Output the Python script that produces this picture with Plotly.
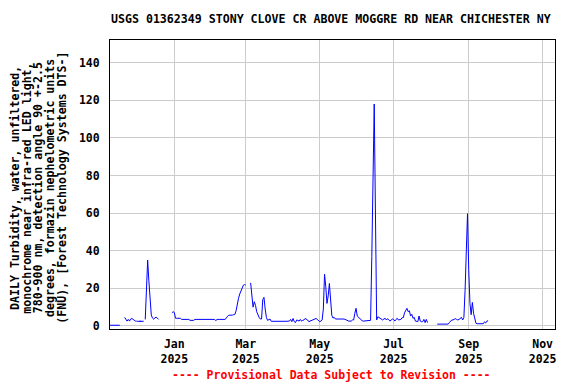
import pandas as pd
import plotly.graph_objects as go

# ---- data (daily turbidity, FNU) ----
seg_a_start = "2024-11-09"
seg_a = [0.4, 0.4, 0.4, 0.4, 0.4, 0.4, 0.4, 0.4, 0.4]

seg_b_start = "2024-11-21"
seg_b = [4.6, 3.5, 2.6, 3.5, 2.6, 3.7, 4.0, 3.5, 3.0, 2.6, 2.6]

iso_dates = ["2024-12-03", "2024-12-05"]
iso_vals = [2.5, 2.5]

seg_c_start = "2024-12-08"
seg_c = [3.5, 19, 35, 24, 12, 5.8, 4.2, 3.6, 4.4, 4.6, 4.2, 3.5]

seg_d_start = "2024-12-30"
seg_d = [7.0, 7.6, 7.2, 4.1, 4.1, 4.1, 4.1, 4.1, 3.5, 3.5,
         3.5, 3.5, 3.5, 3.5, 3.5, 3.0, 3.0, 3.0, 3.0, 3.5,
         3.5, 3.5, 3.6, 3.5, 3.5, 3.5, 3.6, 3.5, 3.5, 3.5,
         3.6, 3.5, 3.5, 3.5, 3.5, 3.5, 3.0, 3.5, 3.5, 3.5,
         3.6, 3.5, 3.5, 3.5, 3.5, 4.5, 5.2, 5.7, 5.7, 5.5,
         5.8, 6.0, 6.2, 8.1, 12, 14.7, 17, 19, 20.5, 21.7,
         22.0, 21.7]

seg_e_start = "2025-03-05"
seg_e = [22.9, 14, 10, 12.9, 11, 7.6, 5.5, 4.6, 3.7, 3.7,
         14, 15.2, 9, 4.6, 3.0, 3.5, 3.7, 2.5, 2.5, 2.3,
         2.1, 2.1, 2.1, 2.1, 2.1, 2.1, 2.1, 2.1, 2.1, 2.1,
         2.5, 2.6, 2.6, 3.5, 2.3, 4.0, 2.3, 1.8, 3.2, 3.0,
         2.6, 3.5, 2.6, 3.0, 3.2, 4.0, 3.6, 3.2, 2.3, 2.6,
         2.8, 3.2, 3.5, 4.0, 4.0, 3.5, 2.6, 2.3, 2.6, 3.2,
         9, 27.5, 21, 12, 16, 22.6, 13.8, 5.6, 4.2, 4.6,
         3.7, 3.7, 3.9, 4.0, 3.7, 3.7, 3.7, 3.7, 3.5, 3.2,
         2.6, 2.6, 2.6, 2.6, 3.2, 3.2, 6.7, 9.4, 5.3, 4.6,
         3.7, 3.2, 2.8, 2.6, 2.6, 2.6, 2.6, 2.6, 2.6, 3.0,
         37, 83, 118, 60, 3.2, 4.9, 4.4, 3.7, 3.5, 3.2,
         3.7, 4.1, 3.2, 3.9, 3.2, 2.6, 3.2, 3.7, 3.5, 2.6,
         3.5, 4.1, 3.2, 3.2, 3.5, 4.4, 4.4, 7.0, 8.0, 9.4,
         7.6, 8.1, 5.3, 6.2, 4.1, 4.6, 2.6, 2.3, 2.3, 5.3,
         2.6, 2.3, 2.3, 3.5, 1.8, 3.5, 1.8]

seg_f_start = "2025-08-06"
seg_f = [1.0, 1.0, 1.0, 1.0, 1.0, 1.0, 1.0, 1.0, 1.0, 1.0,
         1.8, 2.5, 3.2, 3.2, 3.5, 3.9, 3.5, 3.2, 3.5, 3.9,
         4.6, 3.2, 4.6, 19, 47, 59.7, 30, 12, 6, 12.5,
         6.7, 4.1, 1.4, 1.2, 1.2, 1.2, 1.2, 1.6, 1.2, 2.2,
         1.6, 2.6, 2.8]

tick_dates = ["2025-01-01", "2025-03-01", "2025-05-01", "2025-07-01", "2025-09-01", "2025-11-01"]
tick_text = ["Jan<br>2025", "Mar<br>2025", "May<br>2025", "Jul<br>2025", "Sep<br>2025", "Nov<br>2025"]
y_ticks = [0, 20, 40, 60, 80, 100, 120, 140]

title_text = "USGS 01362349 STONY CLOVE CR ABOVE MOGGRE RD NEAR CHICHESTER NY"
ytitle_lines = [
    "DAILY Turbidity, water, unfiltered,",
    "monochrome near infra-red LED light,",
    "780-900 nm, detection angle 90 +-2.5",
    "degrees, formazin nephelometric units",
    "(FNU), [Forest Technology Systems DTS-]",
]
footer_text = "---- Provisional Data Subject to Revision ----"

# ---- build series with gaps ----
xs, ys = [], []
for start, vals in [(seg_a_start, seg_a), (seg_b_start, seg_b), (seg_c_start, seg_c),
                    (seg_d_start, seg_d), (seg_e_start, seg_e), (seg_f_start, seg_f)]:
    dates = pd.date_range(start, periods=len(vals), freq="D")
    xs.extend(list(dates))
    ys.extend(vals)
    xs.append(dates[-1] + pd.Timedelta(hours=12))
    ys.append(None)

FONT = "DejaVu Sans Mono"
fig = go.Figure()
fig.add_trace(go.Scatter(x=xs, y=ys, mode="lines", connectgaps=False,
                         line=dict(color="#0000FF", width=1), showlegend=False))
fig.add_trace(go.Scatter(x=pd.to_datetime(iso_dates), y=iso_vals, mode="markers",
                         marker=dict(symbol="line-ew", size=3, line=dict(color="#0000FF", width=1)),
                         showlegend=False))

# page offset of the figure (browser body margin)
OFF = 8
W, H = 576 - OFF, 384 - OFF
# desired plot area in page pixels
PL, PR, PT, PB = 110, 555, 40, 329
L, T = PL - OFF, PT - OFF
R = W - (PR - OFF)
B = H - (PB - OFF)
pw, ph = PR - PL, PB - PT

def px2x(px):
    return (px - PL) / pw

def py2y(py):
    return (PB - py) / ph

fig.update_layout(
    width=W, height=H,
    margin=dict(l=L, r=R, t=T, b=B, autoexpand=False),
    paper_bgcolor="white", plot_bgcolor="white",
    font=dict(family=FONT, size=11.5, color="black", weight="bold"),
    xaxis=dict(type="date", range=["2024-11-08 22:00", "2025-11-11 05:00"],
               tickvals=pd.to_datetime(tick_dates), ticktext=tick_text,
               showgrid=True, gridcolor="#cccccc", gridwidth=1,
               showline=True, linecolor="black", linewidth=1, mirror=True,
               ticks="", zeroline=False, ticklabelstandoff=4, tickfont=dict(size=11.5)),
    yaxis=dict(range=[-1.6, 152], tickvals=y_ticks,
               showgrid=True, gridcolor="#cccccc", gridwidth=1,
               showline=True, linecolor="black", linewidth=1, mirror=True,
               ticks="", zeroline=False, ticklabelstandoff=7, tickfont=dict(size=11.5)),
)

annotations = []
annotations.append(dict(text=title_text, xref="paper", yref="paper",
                        x=px2x(331), y=py2y(19), xanchor="center", yanchor="middle",
                        showarrow=False, font=dict(family=FONT, size=11.6, color="black", weight="bold")))
line_x = [15, 26.7, 38.3, 50, 61.7]
for px, txt in zip(line_x, ytitle_lines):
    annotations.append(dict(text=txt, xref="paper", yref="paper",
                            x=px2x(px), y=py2y(188), xanchor="center", yanchor="middle",
                            textangle=-90, showarrow=False,
                            font=dict(family=FONT, size=11.6, color="black", weight="bold")))
annotations.append(dict(text=footer_text, xref="paper", yref="paper",
                        x=px2x(331), y=py2y(375), xanchor="center", yanchor="middle",
                        showarrow=False, font=dict(family=FONT, size=11.5, color="#FF0000", weight="bold")))
fig.update_layout(annotations=annotations)

fig.write_html("out.html")
